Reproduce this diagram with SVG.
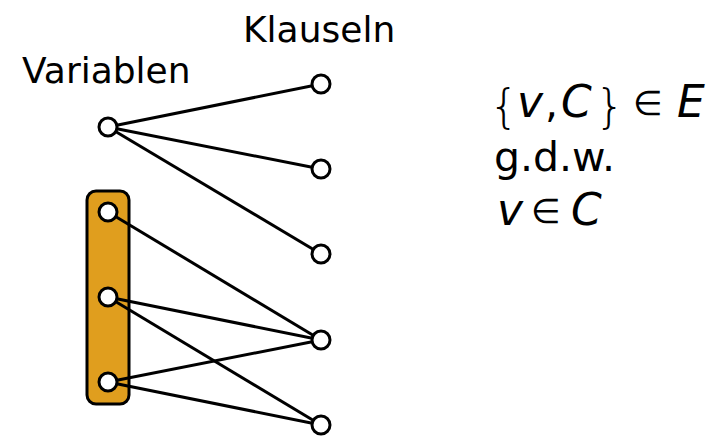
<svg xmlns="http://www.w3.org/2000/svg" width="720" height="436" viewBox="0 0 720 436">
  <style>
    .edge { stroke: #000; stroke-width: 3; fill: none; }
    .node { fill: #fff; stroke: #000; stroke-width: 3; }
    .label { font-family: "DejaVu Sans", sans-serif; font-size: 36px; fill: #000; }
    .math { font-family: "DejaVu Sans", sans-serif; font-size: 41px; fill: #000; }
    .it { font-style: italic; font-size: 44px; }
    .brace { font-weight: 200; font-size: 47px; }
    .rel { font-weight: 200; font-size: 34px; }
  </style>
  <rect width="720" height="436" fill="#fff"/>

  <!-- highlighted variable group -->
  <g id="group">
    <rect x="87" y="191" width="42" height="213" rx="9" fill="#e09e1e" stroke="#000" stroke-width="3"/>
  </g>

  <g id="edges">
    <line class="edge" x1="108" y1="127" x2="321" y2="84"/>
    <line class="edge" x1="108" y1="127" x2="321" y2="169"/>
    <line class="edge" x1="108" y1="127" x2="321" y2="254"/>
    <line class="edge" x1="108" y1="212" x2="321" y2="340"/>
    <line class="edge" x1="108" y1="297" x2="321" y2="340"/>
    <line class="edge" x1="108" y1="297" x2="321" y2="425"/>
    <line class="edge" x1="108" y1="382" x2="321" y2="340"/>
    <line class="edge" x1="108" y1="382" x2="321" y2="425"/>
  </g>

  <g id="v0"><circle class="node" cx="108" cy="127" r="9"/></g>
  <g id="v1"><circle class="node" cx="108" cy="212" r="9"/></g>
  <g id="v2"><circle class="node" cx="108" cy="297" r="9"/></g>
  <g id="v3"><circle class="node" cx="108" cy="382" r="9"/></g>

  <g id="c1"><circle class="node" cx="321" cy="84" r="9"/></g>
  <g id="c2"><circle class="node" cx="321" cy="169" r="9"/></g>
  <g id="c3"><circle class="node" cx="321" cy="254" r="9"/></g>
  <g id="c4"><circle class="node" cx="321" cy="340" r="9"/></g>
  <g id="c5"><circle class="node" cx="321" cy="425" r="9"/></g>

  <g id="labels">
    <text class="label" x="243" y="42">Klauseln</text>
    <text class="label" x="22" y="83">Variablen</text>
  </g>

  <g id="definition" class="math">
    <text class="brace" x="489" y="122">{</text>
    <text class="it" x="517" y="117">v</text>
    <text x="545" y="117">,</text>
    <text class="it" x="561" y="117">C</text>
    <text class="brace" x="595" y="122">}</text>
    <text class="rel" x="633" y="115">∈</text>
    <text class="it" x="677" y="117">E</text>
    <text x="494" y="171">g.d.w.</text>
    <text class="it" x="497" y="225">v</text>
    <text class="rel" x="531" y="223">∈</text>
    <text class="it" x="571" y="225">C</text>
  </g>
</svg>
